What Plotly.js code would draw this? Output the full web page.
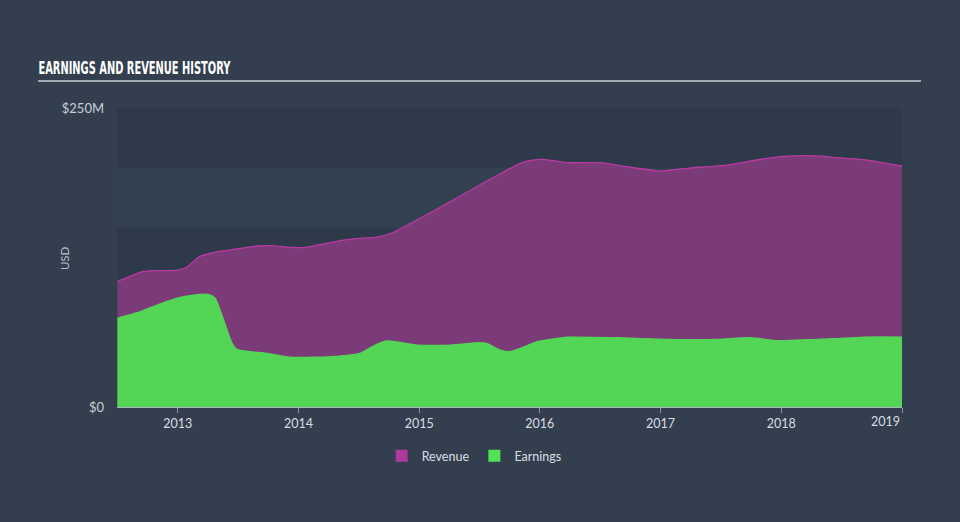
<!DOCTYPE html>
<html>
<head>
<meta charset="utf-8">
<script src="https://cdn.plot.ly/plotly-3.0.1.min.js"></script>
<style>
  html, body { margin: 0; padding: 0; background: #333f4f; }
  #chart { width: 960px; height: 522px; }
</style>
</head>
<body>
<div id="chart"></div>
<script>
// Revenue (USD millions) by decimal year
const revX = [2012.50, 2012.71, 2012.80, 2013.00, 2013.08, 2013.18, 2013.33, 2013.49, 2013.66, 2013.76,
              2014.01, 2014.12, 2014.24, 2014.45, 2014.65, 2014.78, 2014.98, 2015.26, 2015.53, 2015.67,
              2015.84, 2015.94, 2016.03, 2016.23, 2016.50, 2016.72, 2017.00, 2017.22, 2017.55, 2017.88,
              2018.10, 2018.30, 2018.43, 2018.71, 2019.00];
const revY = [104.8, 113.1, 114.0, 114.5, 117.3, 125.7, 129.8, 132.1, 134.6, 134.9,
              133.2, 134.6, 137.1, 140.5, 142.1, 145.7, 156.4, 171.7, 187.3, 194.8,
              204.0, 206.5, 207.1, 204.3, 204.3, 200.9, 197.3, 199.6, 202.3, 207.9,
              209.9, 209.9, 208.8, 206.5, 201.5];

// Earnings (USD millions) by decimal year
const earnX = [2012.50, 2012.69, 2012.85, 2013.02, 2013.13, 2013.25, 2013.31, 2013.38, 2013.45, 2013.49,
               2013.60, 2013.74, 2013.93, 2014.12, 2014.34, 2014.51, 2014.62, 2014.73, 2014.98, 2015.26,
               2015.49, 2015.56, 2015.65, 2015.75, 2015.84, 2015.98, 2016.23, 2016.64, 2017.05, 2017.47,
               2017.74, 2017.97, 2018.16, 2018.43, 2018.71, 2019.00];
const earnY = [74.2, 79.7, 86.1, 91.7, 93.6, 94.2, 90.9, 72.7, 53.3, 48.2,
               46.2, 44.9, 41.6, 41.6, 42.6, 44.9, 51.0, 55.2, 51.8, 51.8,
               53.8, 53.3, 48.5, 46.2, 49.1, 54.6, 58.3, 57.9, 56.6, 56.6,
               57.9, 55.4, 56.0, 57.1, 58.5, 58.5];

const xTickVals = [2013, 2014, 2015, 2016, 2017, 2018, 2019];
const xTickText = ['2013', '2014', '2015', '2016', '2017', '2018', ''];
const yTickVals = [0, 250];
const yTickText = ['$0', '$250M'];
const seriesNames = ['Revenue', 'Earnings'];
const bandEdges = [0, 50, 100, 150, 200, 250];

const FONT = 'Lato, "Open Sans", sans-serif';

const traces = [
  {
    type: 'scatter', mode: 'lines', x: revX, y: revY, name: seriesNames[0],
    fill: 'tozeroy', fillcolor: 'rgb(123,58,120)',
    line: {color: '#b93aa3', width: 1.3, shape: 'spline', smoothing: 0.6},
    showlegend: false, hoverinfo: 'skip'
  },
  {
    type: 'scatter', mode: 'lines', x: earnX, y: earnY, name: seriesNames[1],
    fill: 'tozeroy', fillcolor: '#53d655',
    line: {color: '#53d655', width: 1.3, shape: 'spline', smoothing: 0.6},
    showlegend: false, hoverinfo: 'skip'
  },
  {type: 'bar', x: [null], y: [null], name: seriesNames[0], marker: {color: '#ad3a9c'}, showlegend: true},
  {type: 'bar', x: [null], y: [null], name: seriesNames[1], marker: {color: '#53e253'}, showlegend: true}
];

const shapes = [];
for (let i = 0; i < bandEdges.length - 1; i++) {
  if (i % 2 === 0) {
    shapes.push({type: 'rect', xref: 'paper', yref: 'y', x0: 0, x1: 1,
      y0: bandEdges[i], y1: bandEdges[i + 1], fillcolor: '#2e3a49', line: {width: 0}, layer: 'below'});
  }
}
// title underline
shapes.push({type: 'line', xref: 'paper', yref: 'paper', x0: -0.1006, x1: 1.0242, y0: 1.0903, y1: 1.0903,
  line: {color: '#a3a9b1', width: 2}});

const layout = {
  width: 960, height: 522,
  paper_bgcolor: '#333f4f',
  plot_bgcolor: '#334050',
  margin: {l: 117, r: 58, t: 108, b: 115},
  font: {family: FONT, color: '#d9dde2', size: 12},
  showlegend: true,
  legend: {orientation: 'h', x: 0.455, xanchor: 'center', y: -0.164, yanchor: 'middle',
    font: {family: FONT, size: 12.5, color: '#d9dde2'}, bgcolor: 'rgba(0,0,0,0)', itemwidth: 30},
  xaxis: {
    range: [2012.497, 2019.0], tickvals: xTickVals, ticktext: xTickText,
    showgrid: false, zeroline: false, showline: true, linecolor: '#aab3c0', linewidth: 1,
    ticks: 'outside', ticklen: 5, tickcolor: '#8d97a6', tickwidth: 1,
    tickfont: {family: FONT, size: 12.5, color: '#d9dde2'}, fixedrange: true
  },
  yaxis: {
    range: [0, 250], tickvals: yTickVals, ticktext: yTickText,
    showgrid: false, zeroline: false, showline: false, ticks: '',
    ticklabelstandoff: 12,
    tickfont: {family: FONT, size: 13, color: '#c9ced5'},
    fixedrange: true
  },
  shapes: shapes,
  annotations: [
    {xref: 'paper', yref: 'paper', x: 0.02166, y: 1.1338, xanchor: 'center', yanchor: 'middle',
     text: '<b>EARNINGS AND REVENUE HISTORY</b>', showarrow: false,
     font: {family: '"DejaVu Sans Condensed", "Liberation Sans Narrow", sans-serif', size: 18, color: '#ffffff'}},
    {xref: 'x', yref: 'paper', x: xTickVals[6], y: -0.05, xanchor: 'right', yanchor: 'middle',
     text: '2019', showarrow: false, font: {family: FONT, size: 12.5, color: '#d9dde2'}},
    {xref: 'paper', yref: 'paper', x: -0.0675, y: 0.498, xanchor: 'center', yanchor: 'middle',
     text: 'USD', textangle: -90, showarrow: false, font: {family: FONT, size: 11.5, color: '#b9bfc8'}}
  ]
};

Plotly.newPlot('chart', traces, layout, {displayModeBar: false, staticPlot: true}).then(function (gd) {
  const ann = gd.querySelectorAll('.annotation-text');
  if (ann.length) {
    const t = ann[0];
    t.setAttribute('textLength', '192');
    t.setAttribute('lengthAdjust', 'spacingAndGlyphs');
  }
});
</script>
</body>
</html>
